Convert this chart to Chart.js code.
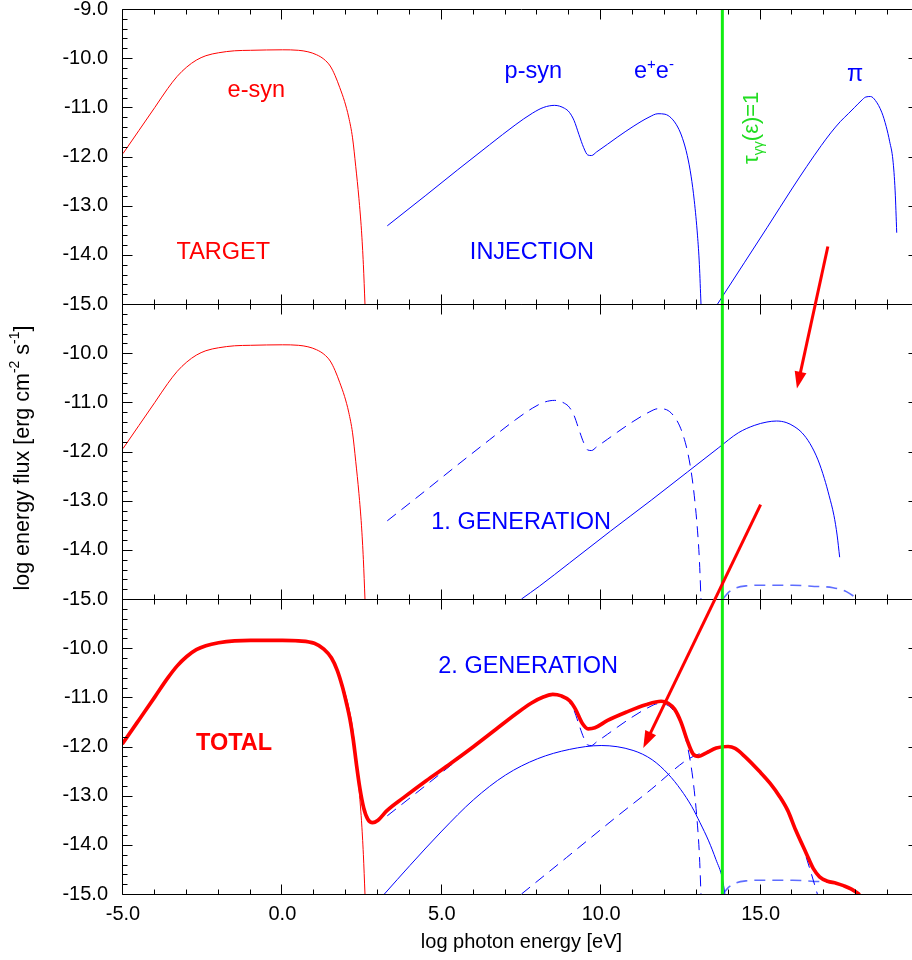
<!DOCTYPE html>
<html><head><meta charset="utf-8">
<script src="https://cdn.jsdelivr.net/npm/chart.js@4.4.0/dist/chart.umd.min.js"></script>
<style>
html,body{margin:0;padding:0;overflow:hidden;background:#fff;}
#wrap{position:relative;width:912px;height:960px;overflow:hidden;}
#c{position:absolute;left:0;top:0;}
</style></head><body>
<div id="wrap"><canvas id="c" width="930" height="960"></canvas></div>
<script>
// ---------- tick values / labels ----------
const xTickValues = [-5, 0, 5, 10, 15, 20];
const xTickLabels = ['-5.0', '0.0', '5.0', '10.0', '15.0', ''];
const yTickValues = [-15, -14, -13, -12, -11, -10, -9];
const yTickLabelsTop = ['-15.0', '-14.0', '-13.0', '-12.0', '-11.0', '-10.0', '-9.0'];
const yTickLabelsLower = ['-15.0', '-14.0', '-13.0', '-12.0', '-11.0', '-10.0', ''];

// ---------- series (log photon energy [eV], log energy flux) ----------
const eSyn = [[-5,-11.94],[-4.5,-11.47],[-4.0,-11.0],[-3.6,-10.62],[-3.3,-10.37],[-3.0,-10.18],[-2.7,-10.04],[-2.4,-9.95],[-2.0,-9.89],[-1.5,-9.85],[-1.0,-9.84],[0,-9.83],[0.5,-9.84],[0.8,-9.87],[1.07,-9.93],[1.3,-10.02],[1.5,-10.16],[1.65,-10.35],[1.8,-10.6],[1.95,-10.88],[2.08,-11.2],[2.2,-11.62],[2.3,-12.2],[2.4,-12.85],[2.48,-13.5],[2.54,-14.2],[2.59,-15]];
const injection = [[3.29,-13.41],[4.5,-12.79],[5.5,-12.27],[6.5,-11.76],[7.3,-11.36],[7.84,-11.12],[8.2,-11.0],[8.54,-10.96],[8.85,-11.02],[9.0,-11.1],[9.15,-11.27],[9.3,-11.55],[9.45,-11.82],[9.58,-11.97],[9.7,-11.98],[9.85,-11.91],[10.2,-11.75],[10.5,-11.61],[11.0,-11.39],[11.5,-11.2],[11.78,-11.13],[12.0,-11.14],[12.2,-11.22],[12.4,-11.4],[12.55,-11.63],[12.7,-11.98],[12.82,-12.4],[12.92,-12.9],[13.02,-13.6],[13.08,-14.2],[13.13,-15]];
const pion = [[13.65,-15],[13.8,-14.85],[14.5,-14.15],[15.2,-13.45],[16.0,-12.64],[16.45,-12.2],[16.9,-11.78],[17.2,-11.52],[17.5,-11.29],[17.75,-11.13],[17.95,-11.0],[18.15,-10.87],[18.3,-10.79],[18.45,-10.78],[18.6,-10.86],[18.8,-11.1],[18.94,-11.39],[19.05,-11.7],[19.15,-12.07],[19.22,-12.7],[19.27,-13.55]];
const gen1 = [[7.5,-15],[8.06,-14.74],[9.0,-14.27],[10.29,-13.62],[11.57,-12.99],[12.7,-12.42],[13.69,-11.92],[14.3,-11.62],[14.8,-11.47],[15.2,-11.4],[15.5,-11.38],[15.8,-11.41],[16.05,-11.49],[16.3,-11.62],[16.55,-11.84],[16.8,-12.17],[17.0,-12.55],[17.15,-12.9],[17.3,-13.3],[17.4,-13.7],[17.48,-14.15]];
const gen1Flat = [[13.82,-15],[14.0,-14.86],[14.24,-14.77],[14.6,-14.73],[15.0,-14.72],[16.0,-14.72],[16.6,-14.74],[17.27,-14.77],[17.69,-14.85],[18.05,-15]];
const gen1Abs = [[7.5,-15],[8.91,-14.26],[10.5,-13.42],[11.57,-12.87],[12.67,-12.28],[13.0,-12.17],[13.3,-12.1],[13.6,-12.04],[14.0,-12.0],[14.34,-12.1],[14.97,-12.52],[15.3,-12.76],[15.6,-13.03],[15.85,-13.32],[16.1,-13.7],[16.32,-14.04],[16.55,-14.5],[16.78,-15]];
const gen2 = [[3.2,-15],[4.0,-14.42],[5.0,-13.72],[6.0,-13.08],[7.0,-12.58],[8.0,-12.25],[9.0,-12.06],[10.0,-11.98],[11.0,-12.08],[11.6,-12.27],[12.1,-12.56],[12.5,-12.88],[12.84,-13.22],[13.1,-13.55],[13.37,-13.92],[13.6,-14.3],[13.8,-14.68],[13.88,-15]];
const total = [[-5,-11.93],[-4.5,-11.46],[-4.0,-10.99],[-3.6,-10.61],[-3.3,-10.36],[-3.0,-10.17],[-2.7,-10.03],[-2.4,-9.95],[-2.0,-9.89],[-1.5,-9.85],[-1.0,-9.84],[0,-9.84],[0.5,-9.85],[1.0,-9.9],[1.3,-10.02],[1.54,-10.2],[1.72,-10.45],[1.88,-10.78],[2.01,-11.12],[2.12,-11.45],[2.22,-11.85],[2.32,-12.35],[2.43,-12.85],[2.55,-13.25],[2.68,-13.48],[2.83,-13.55],[3.0,-13.5],[3.27,-13.31],[3.8,-13.04],[4.5,-12.7],[5.2,-12.38],[6.0,-12.0],[6.7,-11.65],[7.3,-11.35],[7.8,-11.12],[8.2,-10.99],[8.48,-10.94],[8.75,-10.97],[9.01,-11.07],[9.2,-11.25],[9.4,-11.52],[9.59,-11.64],[9.8,-11.62],[10.2,-11.47],[10.79,-11.3],[11.4,-11.15],[11.88,-11.08],[12.1,-11.12],[12.3,-11.24],[12.5,-11.5],[12.7,-11.88],[12.88,-12.15],[13.05,-12.2],[13.3,-12.13],[13.61,-12.03],[13.98,-12.0],[14.2,-12.04],[14.5,-12.2],[14.97,-12.51],[15.3,-12.75],[15.6,-13.02],[15.85,-13.3],[16.1,-13.7],[16.43,-14.17],[16.65,-14.48],[16.85,-14.65],[17.1,-14.74],[17.37,-14.78],[17.6,-14.83],[17.85,-14.9],[18.08,-15]];
const tauLine = [[13.8,-15],[13.8,-9]];

const RED = '#ff0000', BLUE = '#0000ff', GREEN = '#11ee11', FLATBLUE = 'rgba(40,60,255,0.75)';
const FONT = '"Liberation Sans", Arial, Helvetica, sans-serif';

function ds(points, axis, color, width, dash, order, straight) {
  const d = {
    data: points.map(p => ({x: p[0], y: p[1]})),
    yAxisID: axis, borderColor: color, borderWidth: width,
    borderDash: dash || [], pointRadius: 0, fill: false, order: order,
    borderJoinStyle: 'round', borderCapStyle: width > 2 ? 'round' : 'butt'
  };
  if (straight) { d.tension = 0; } else { d.cubicInterpolationMode = 'monotone'; }
  return d;
}
const DASH = [11, 7];
const datasets = [
  // top panel: target + injection
  ds(eSyn, 'yTop', RED, 1, null, 5),
  ds(injection, 'yTop', BLUE, 1, null, 5),
  ds(pion, 'yTop', BLUE, 1, null, 5),
  ds(tauLine, 'yTop', GREEN, 3, null, 0, true),
  // middle panel: 1. generation
  ds(eSyn, 'yMid', RED, 1, null, 5),
  ds(injection, 'yMid', BLUE, 1, DASH, 5),
  ds(gen1, 'yMid', BLUE, 1, null, 5),
  ds(gen1Flat, 'yMid', FLATBLUE, 1.6, DASH, 5),
  ds(tauLine, 'yMid', GREEN, 3, null, 0, true),
  // bottom panel: 2. generation + total
  ds(eSyn, 'yBot', RED, 1, null, 5),
  ds(injection, 'yBot', BLUE, 1, DASH, 5),
  ds(gen1Abs, 'yBot', BLUE, 1, DASH, 5),
  ds(gen1Flat, 'yBot', FLATBLUE, 1.6, DASH, 5),
  ds(gen2, 'yBot', BLUE, 1, null, 5),
  ds(total, 'yBot', RED, 3.7, null, 1),
  ds(tauLine, 'yBot', GREEN, 3, null, 0, true)
];

function yAxis(weight, labels) {
  return {
    type: 'linear', position: 'left', stack: 'panels', stackWeight: 1, weight: weight,
    min: -15, max: -9,
    afterBuildTicks: s => { s.ticks = yTickValues.map(v => ({value: v})); },
    ticks: {
      autoSkip: false, padding: 15, color: '#000',
      font: {family: FONT, size: 20, lineHeight: 0.8},
      callback: v => { const i = yTickValues.indexOf(v); return i >= 0 ? labels[i] : ''; }
    },
    grid: {display: false, drawTicks: false}, border: {display: false},
    afterFit: s => { s.width = 123; s.paddingTop = 0; s.paddingBottom = 0; }
  };
}

// ---------- annotation (frame, ticks, arrows, texts) ----------
function richText(ctx, parts, x, y) {
  let cx = x;
  for (const p of parts) {
    ctx.font = (p.bold ? 'bold ' : '') + p.size + 'px ' + FONT;
    ctx.fillText(p.t, cx, y + (p.dy || 0));
    cx += ctx.measureText(p.t).width;
  }
  return cx - x;
}
function richWidth(ctx, parts) {
  let w = 0;
  for (const p of parts) { ctx.font = (p.bold ? 'bold ' : '') + p.size + 'px ' + FONT; w += ctx.measureText(p.t).width; }
  return w;
}

const panelIds = ['yTop', 'yMid', 'yBot'];
const labelSpecs = [
  {axis: 'yTop', x: -1.72, y: -10.79, color: RED, parts: [{t: 'e-syn', size: 23.5}]},
  {axis: 'yTop', x: -3.32, y: -14.09, color: RED, parts: [{t: 'TARGET', size: 23.5}]},
  {axis: 'yTop', x: 6.97, y: -10.40, color: BLUE, parts: [{t: 'p-syn', size: 23.5}]},
  {axis: 'yTop', x: 11.03, y: -10.40, color: BLUE, parts: [{t: 'e', size: 23.5}, {t: '+', size: 15, dy: -9}, {t: 'e', size: 23.5}, {t: '-', size: 15, dy: -9}]},
  {axis: 'yTop', x: 17.71, y: -10.47, color: BLUE, parts: [{t: 'π', size: 23.5}]},
  {axis: 'yTop', x: 5.88, y: -14.09, color: BLUE, parts: [{t: 'INJECTION', size: 23.5}]},
  {axis: 'yMid', x: 4.67, y: -13.57, color: BLUE, parts: [{t: '1. GENERATION', size: 23.5}]},
  {axis: 'yBot', x: 4.89, y: -10.51, color: BLUE, parts: [{t: '2. GENERATION', size: 23.5}]},
  {axis: 'yBot', x: -2.71, y: -12.08, color: RED, parts: [{t: 'TOTAL', size: 23.5, bold: true}]}
];
const arrowSpecs = [
  {x0: 17.11, y0: -13.83, a0: 'yTop', x1: 16.14, y1: -10.72, a1: 'yMid'},
  {x0: 15.0, y0: -13.08, a0: 'yMid', x1: 11.32, y1: -12.03, a1: 'yBot'}
];

const decor = {
  id: 'decor',
  afterDatasetsDraw(chart) {
    const ctx = chart.ctx, xs = chart.scales.x;
    const L = Math.round(xs.left) - 0.5, R = Math.round(xs.right) + 0.5;
    ctx.save();
    ctx.strokeStyle = '#000'; ctx.lineWidth = 1;
    for (const id of panelIds) {
      const ys = chart.scales[id];
      const T = Math.round(ys.getPixelForValue(-9)) + 0.5;
      const B = Math.round(ys.getPixelForValue(-15)) + 0.5;
      ctx.beginPath();
      ctx.rect(L, T, R - L, B - T);
      for (let k = 0; k <= 30; k++) {
        const v = -15 + k * 0.2;
        const py = Math.round(ys.getPixelForValue(v)) + 0.5;
        const major = k % 5 === 0;
        ctx.moveTo(L, py); ctx.lineTo(L + (major ? 10 : 5), py);
        if (major) { ctx.moveTo(R, py); ctx.lineTo(R - 12, py); }
      }
      for (let v = -5; v <= 20; v++) {
        const px = Math.round(xs.getPixelForValue(v)) - 0.5;
        const len = (v % 5 === 0) ? 10 : 5;
        ctx.moveTo(px, T); ctx.lineTo(px, T + len);
        ctx.moveTo(px, B); ctx.lineTo(px, B - len);
      }
      ctx.stroke();
    }
    ctx.restore();
  },
  afterDraw(chart) {
    const ctx = chart.ctx, xs = chart.scales.x;
    ctx.save();
    // arrows
    ctx.strokeStyle = RED; ctx.fillStyle = RED; ctx.lineWidth = 3; ctx.lineCap = 'butt';
    for (const a of arrowSpecs) {
      const x0 = xs.getPixelForValue(a.x0), y0 = chart.scales[a.a0].getPixelForValue(a.y0);
      const x1 = xs.getPixelForValue(a.x1), y1 = chart.scales[a.a1].getPixelForValue(a.y1);
      const dx = x1 - x0, dy = y1 - y0, len = Math.hypot(dx, dy);
      const ux = dx / len, uy = dy / len, hl = 17, hw = 6;
      const bx = x1 - ux * hl, by = y1 - uy * hl;
      ctx.beginPath(); ctx.moveTo(x0, y0); ctx.lineTo(bx + ux * 2, by + uy * 2); ctx.stroke();
      ctx.beginPath(); ctx.moveTo(x1, y1);
      ctx.lineTo(bx - uy * hw, by + ux * hw); ctx.lineTo(bx + uy * hw, by - ux * hw);
      ctx.closePath(); ctx.fill();
    }
    // annotation labels
    ctx.textBaseline = 'alphabetic'; ctx.textAlign = 'left';
    for (const s of labelSpecs) {
      ctx.fillStyle = s.color;
      richText(ctx, s.parts, xs.getPixelForValue(s.x), chart.scales[s.axis].getPixelForValue(s.y));
    }
    // tau label (rotated)
    ctx.fillStyle = '#22dd22';
    ctx.save();
    ctx.translate(xs.getPixelForValue(14.91), chart.scales.yTop.getPixelForValue(-12.15));
    ctx.rotate(-Math.PI / 2);
    richText(ctx, [{t: 'τ', size: 22}, {t: 'γγ', size: 14, dy: 5}, {t: '(ε)=1', size: 22}], 0, 0);
    ctx.restore();
    // axis titles
    ctx.fillStyle = '#000';
    const yt = [{t: 'log energy flux [erg cm', size: 21.5}, {t: '-2', size: 14, dy: -10}, {t: ' s', size: 21.5}, {t: '-1', size: 14, dy: -10}, {t: ']', size: 21.5}];
    ctx.save();
    ctx.translate(29, 458);
    ctx.rotate(-Math.PI / 2);
    ctx.textBaseline = 'alphabetic';
    richText(ctx, yt, -richWidth(ctx, yt) / 2, 0);
    ctx.restore();
    ctx.font = '20px ' + FONT; ctx.textAlign = 'center'; ctx.textBaseline = 'middle';
    ctx.fillText('log photon energy [eV]', (xs.left + xs.right) / 2, 942);
    ctx.restore();
  }
};

new Chart(document.getElementById('c'), {
  type: 'line',
  data: {datasets: datasets},
  options: {
    responsive: false, animation: false, devicePixelRatio: 1,
    layout: {padding: {top: 9, right: 10, bottom: 0, left: 0}},
    plugins: {legend: {display: false}, tooltip: {enabled: false}},
    elements: {line: {fill: false}},
    scales: {
      x: {
        type: 'linear', position: 'bottom', min: -5, max: 20,
        afterBuildTicks: s => { s.ticks = xTickValues.map(v => ({value: v})); },
        ticks: {
          autoSkip: false, maxRotation: 0, padding: 8, color: '#000',
          font: {family: FONT, size: 20},
          callback: v => { const i = xTickValues.indexOf(v); return i >= 0 ? xTickLabels[i] : ''; }
        },
        grid: {display: false, drawTicks: false}, border: {display: false},
        afterFit: s => { s.height = 66; s.paddingLeft = 0; s.paddingRight = 0; }
      },
      yTop: yAxis(3, yTickLabelsTop),
      yMid: yAxis(2, yTickLabelsLower),
      yBot: yAxis(1, yTickLabelsLower)
    }
  },
  plugins: [decor]
});
</script>
</body></html>
